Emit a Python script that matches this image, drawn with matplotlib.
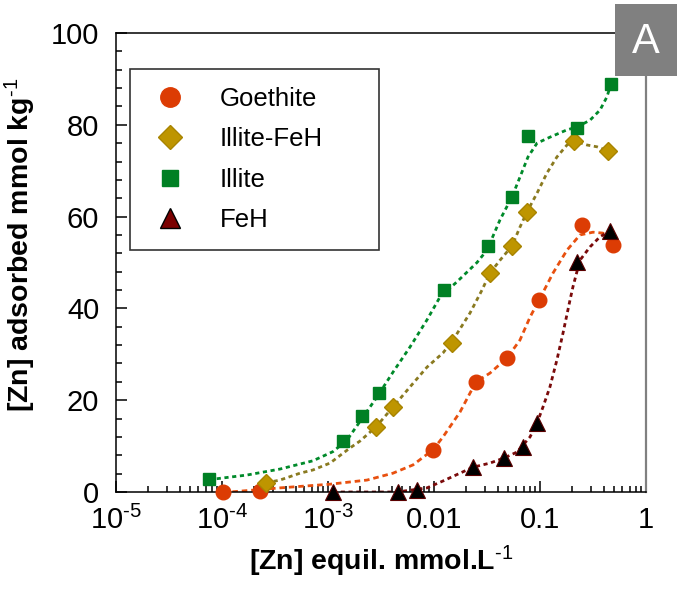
import matplotlib
matplotlib.use('Agg')
import matplotlib.pyplot as plt
import numpy as np
from matplotlib.lines import Line2D
from matplotlib.patches import Rectangle
from matplotlib.ticker import FixedLocator, LogLocator, NullFormatter, MultipleLocator

plt.rcParams['font.family'] = ['Liberation Sans', 'DejaVu Sans']
plt.rcParams['mathtext.fontset'] = 'custom'
plt.rcParams['mathtext.rm'] = 'Liberation Sans'
plt.rcParams['mathtext.default'] = 'regular'

# measured isotherms: equilibrium Zn (mmol/L) vs adsorbed Zn (mmol/kg)
goethite_x = [1.02e-4, 2.28e-4, 9.8e-3, 0.0249, 0.0489, 0.098, 0.249, 0.489]
goethite_y = [0.0, 0.3, 9.2, 24.0, 29.2, 41.8, 58.2, 53.8]

illite_feh_x = [2.6e-4, 2.84e-3, 4.1e-3, 0.0148, 0.0337, 0.0545, 0.0753, 0.2096, 0.4385]
illite_feh_y = [2.0, 14.2, 18.5, 32.5, 47.7, 53.6, 61.0, 76.5, 74.3]

illite_x = [7.5e-5, 1.39e-3, 2.09e-3, 3.03e-3, 0.0124, 0.0323, 0.0545, 0.0771, 0.223, 0.468]
illite_y = [2.8, 11.1, 16.6, 21.6, 44.0, 53.6, 64.3, 77.6, 79.3, 88.9]

feh_x = [1.11e-3, 4.57e-3, 6.9e-3, 0.0233, 0.0457, 0.0692, 0.0938, 0.223, 0.457]
feh_y = [0.0, 0.0, 0.4, 5.4, 7.4, 9.8, 15.0, 50.1, 56.9]

# model curves (log10 of equilibrium conc., adsorbed)
fit_goethite_logx = [-3.991, -3.925, -3.453, -2.981, -2.632, -2.387, -2.198, -2.009, -1.915,
                     -1.755, -1.604, -1.472, -1.311, -1.189, -1.094, -1.009, -0.877, -0.745,
                     -0.623, -0.500, -0.406, -0.311]
fit_goethite_y = [0.0, 0.0, 0.9, 1.7, 2.6, 4.1, 5.9, 9.2, 12.0,
                  17.4, 24.0, 25.9, 29.2, 33.1, 38.1, 41.8, 47.7, 52.7,
                  56.0, 56.6, 56.4, 54.5]

fit_illite_feh_logx = [-3.585, -3.453, -3.264, -3.142, -2.981, -2.792, -2.698, -2.547, -2.387,
                       -2.226, -2.066, -1.915, -1.821, -1.660, -1.547, -1.472, -1.377, -1.264,
                       -1.189, -1.123, -1.028, -0.934, -0.840, -0.745, -0.679, -0.557, -0.462,
                       -0.358]
fit_illite_feh_y = [2.0, 2.6, 4.1, 4.8, 6.3, 9.6, 11.1, 14.2, 18.5,
                    22.9, 27.2, 30.3, 33.1, 39.0, 44.0, 47.7, 50.5, 53.6,
                    57.7, 61.0, 65.1, 69.5, 73.0, 75.6, 76.5, 75.6, 75.2,
                    74.3]

fit_illite_logx = [-4.123, -4.047, -3.764, -3.453, -3.142, -2.953, -2.821, -2.679, -2.538,
                   -2.387, -2.226, -2.066, -1.943, -1.783, -1.594, -1.500, -1.377, -1.264,
                   -1.189, -1.113, -1.028, -0.906, -0.745, -0.651, -0.528, -0.434, -0.368,
                   -0.330]
fit_illite_y = [2.8, 2.9, 3.7, 5.0, 6.8, 8.8, 11.3, 16.0, 20.7,
                26.1, 31.6, 37.5, 42.5, 45.8, 50.0, 52.7, 59.3, 64.3,
                68.6, 73.0, 76.0, 77.3, 78.9, 79.5, 81.0, 83.2, 86.1,
                88.9]

fit_feh_logx = [-2.953, -2.632, -2.349, -2.066, -1.915, -1.755, -1.632, -1.472, -1.340,
                -1.217, -1.094, -1.028, -0.972, -0.906, -0.840, -0.783, -0.717, -0.689,
                -0.623, -0.528, -0.434, -0.340]
fit_feh_y = [0.0, 0.0, 0.0, 0.9, 2.4, 4.1, 5.4, 6.3, 7.4,
             8.7, 12.0, 15.0, 18.5, 22.9, 28.8, 34.6, 41.8, 44.7,
             50.5, 53.4, 55.6, 56.9]

tick_pos = [1e-5, 1e-4, 1e-3, 1e-2, 1e-1, 1]
tick_labels = ['10$^{\\text{-5}}$', '10$^{\\text{-4}}$', '10$^{\\text{-3}}$', '0.01', '0.1', '1']

c_goe = '#DC3C04'
c_goe_line = '#E8500F'
c_ifeh = '#BE9500'
c_ifeh_line = '#8A7A20'
c_ill = '#008024'
c_ill_line = '#008A2A'
c_feh_line = '#7A0A0A'

fig = plt.figure(figsize=(6.77, 5.93), dpi=100)
ax = fig.add_axes([0.1713, 0.1703, 0.7829, 0.7741])

dots = (0, (1.5, 1.3))
ax.plot(10 ** np.array(fit_illite_logx), fit_illite_y, color=c_ill_line, lw=2.0, ls=dots)
ax.plot(10 ** np.array(fit_illite_feh_logx), fit_illite_feh_y, color=c_ifeh_line, lw=2.0, ls=dots)
ax.plot(10 ** np.array(fit_goethite_logx), fit_goethite_y, color=c_goe_line, lw=2.0, ls=(0, (2.0, 1.4)))
ax.plot(10 ** np.array(fit_feh_logx), fit_feh_y, color=c_feh_line, lw=2.0, ls=dots)

ax.plot(goethite_x, goethite_y, 'o', ms=10.5, color=c_goe, mec=c_goe, clip_on=False, zorder=5)
ax.plot(illite_feh_x, illite_feh_y, 'D', ms=9.5, color=c_ifeh, mec='#A88400', clip_on=False, zorder=5)
ax.plot(illite_x, illite_y, 's', ms=9, color=c_ill, mec=c_ill, clip_on=False, zorder=5)
ax.plot(feh_x, feh_y, '^', ms=11, color='black', mec='#5a0000', mew=0.8, clip_on=False, zorder=5)

ax.set_xscale('log')
ax.set_xlim(1e-5, 1)
ax.set_ylim(0, 100)

ax.xaxis.set_major_locator(FixedLocator(tick_pos))
ax.set_xticklabels(tick_labels)
ax.xaxis.set_minor_locator(LogLocator(base=10, subs=np.arange(2, 10)))
ax.xaxis.set_minor_formatter(NullFormatter())
ax.yaxis.set_major_locator(MultipleLocator(20))
ax.yaxis.set_minor_locator(MultipleLocator(4))

ax.tick_params(which='both', direction='in', top=False, right=False, width=1.1, labelsize=21)
ax.tick_params(which='major', length=8)
ax.tick_params(which='minor', length=4.5)
ax.tick_params(axis='x', which='major', pad=10)
ax.tick_params(axis='y', which='major', pad=12)

for side in ['left', 'bottom', 'top']:
    ax.spines[side].set_linewidth(1.1)
ax.spines['right'].set_color('#808080')
ax.spines['right'].set_linewidth(1.6)

ax.set_xlabel('[Zn] equil. mmol.L$^{\\text{-1}}$', fontsize=20.5, fontweight='bold', labelpad=6)
ax.set_ylabel('[Zn] adsorbed mmol kg$^{\\text{-1}}$', fontsize=20.5, fontweight='bold')
ax.yaxis.set_label_coords(-0.147, 0.538)

handles = [
    Line2D([], [], ls='none', marker='o', ms=14, color=c_goe, mec=c_goe),
    Line2D([], [], ls='none', marker='D', ms=12.5, color=c_ifeh, mec='#A88400'),
    Line2D([], [], ls='none', marker='s', ms=11.5, color=c_ill, mec=c_ill),
    Line2D([], [], ls='none', marker='^', ms=14, color='#7A0000', mec='black', mew=1),
]
labels = ['Goethite', 'Illite-FeH', 'Illite', 'FeH']
leg = ax.legend(handles, labels, loc='upper left', bbox_to_anchor=(0.0264, 0.5296, 0.47, 0.392),
                mode='expand', fontsize=18.5, frameon=True, fancybox=False, borderaxespad=0,
                labelspacing=0.64, handletextpad=1.09, borderpad=0.7, handlelength=1.71)
leg.get_frame().set_edgecolor('black')
leg.get_frame().set_linewidth(1.2)

# panel letter box in the top right corner
fig.patches.append(Rectangle((0.9084, 0.8718), 0.0916, 0.1214, transform=fig.transFigure,
                             facecolor='#808080', edgecolor='none', zorder=10))
fig.text(0.954, 0.930, 'A', color='white', fontsize=30, ha='center', va='center', zorder=11)

fig.savefig('out.png', dpi=100)
